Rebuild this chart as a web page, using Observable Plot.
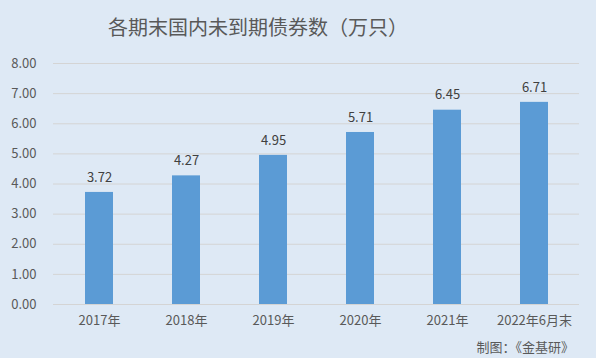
<!DOCTYPE html>
<html><head><meta charset="utf-8">
<script src="https://cdn.jsdelivr.net/npm/d3@7"></script>
<script src="https://cdn.jsdelivr.net/npm/@observablehq/plot@0.6"></script>
<style>
body{margin:0;}
#wrap{position:relative;width:596px;height:358px;background:#dee9f5;overflow:hidden;font-family:"Noto Sans CJK SC","Microsoft YaHei",sans-serif;}
#title{position:absolute;left:0;width:516px;top:12px;text-align:center;font-size:20px;color:#595959;}
#cap{position:absolute;right:22px;top:337px;font-size:13px;color:#595959;}
#chart{position:absolute;left:0;top:0;}
</style></head>
<body>
<div id="wrap"><div id="chart"></div><div id="title">各期末国内未到期债券数（万只）</div><div id="cap">制图：《金基研》</div></div>
<script>
const categories = ["2017年","2018年","2019年","2020年","2021年","2022年6月末"];
const values = [3.72, 4.27, 4.95, 5.71, 6.45, 6.71];
const yTicks = [0,1,2,3,4,5,6,7,8];
const data = categories.map((c,i)=>({cat:c, v:values[i]}));
const chart = Plot.plot({
  width:596, height:358,
  marginTop:63, marginBottom:54, marginLeft:53, marginRight:17,
  style:{background:"transparent", fontFamily:"'Noto Sans CJK SC', sans-serif", fontSize:"13px", color:"#595959"},
  x:{domain:categories, paddingInner:0.68, paddingOuter:0.34, label:null},
  y:{domain:[0,8], label:null},
  marks:[
    Plot.gridY(yTicks, {stroke:"#d4d4d4", strokeOpacity:1}),
    Plot.barY(data, {x:"cat", y:"v", fill:"#5b9bd5"}),
    Plot.ruleY([0], {stroke:"#d4d4d4"}),
    Plot.text(data, {x:"cat", y:"v", text:d=>d3.format(".2f")(d.v), dy:-15, fill:"#404040", fontSize:13}),
    Plot.axisX({tickSize:0, tickPadding:11, fill:"#595959"}),
    Plot.axisY({ticks:yTicks, tickFormat:d3.format(".2f"), tickSize:0, tickPadding:17, fill:"#595959"})
  ]
});
document.getElementById("chart").appendChild(chart);
</script>
</body></html>
